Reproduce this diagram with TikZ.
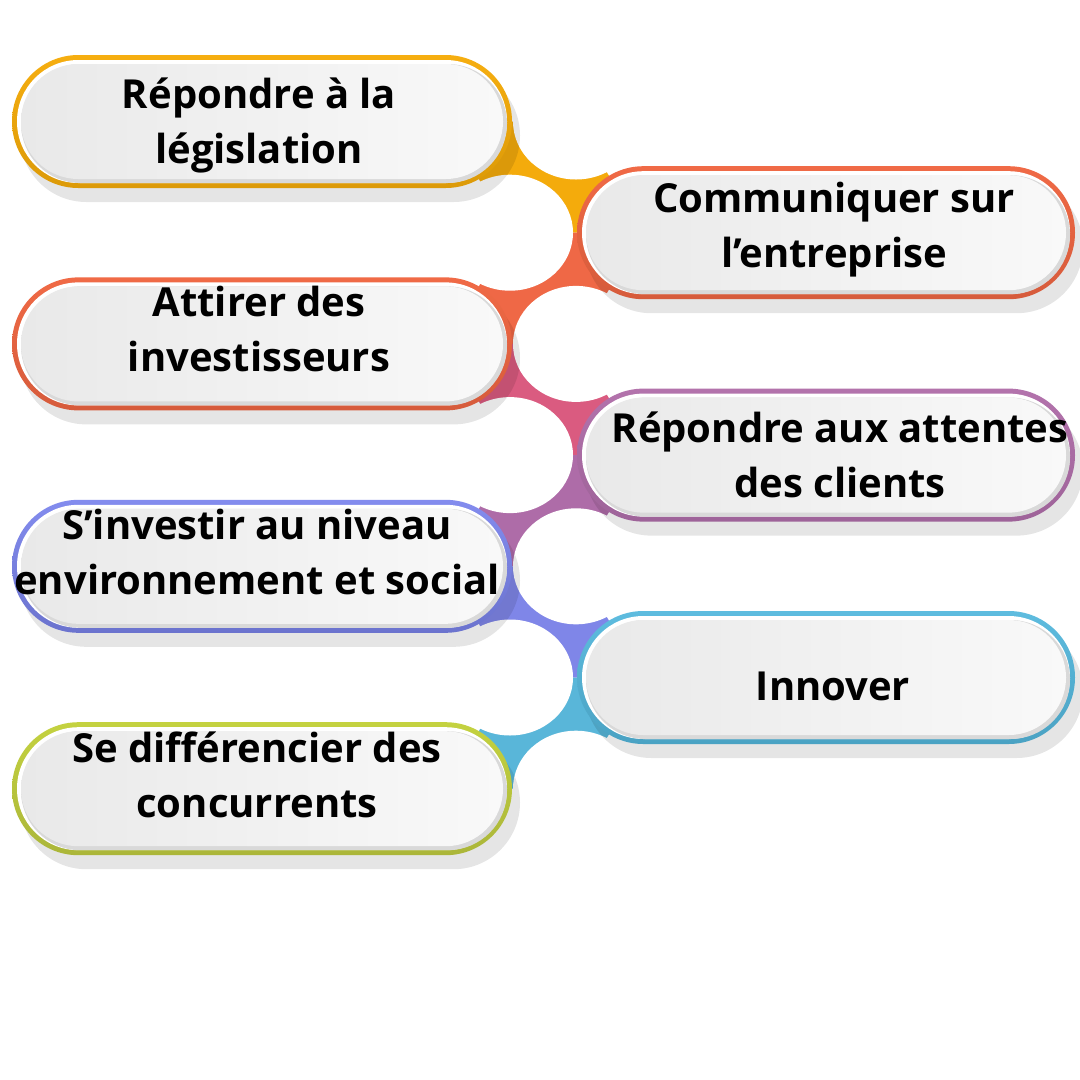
\documentclass[tikz,border=0pt]{standalone}
\usepackage{fontspec}
\newfontfamily\lblfont{Open Sans}
\definecolor{bandA}{HTML}{F4AB0C}
\definecolor{bandB}{HTML}{EF6846}
\definecolor{bandC}{HTML}{DA5B80}
\definecolor{bandD}{HTML}{AE6CA8}
\definecolor{bandE}{HTML}{7F86E8}
\definecolor{bandF}{HTML}{59B6D9}
\definecolor{yelT}{HTML}{F6AE10}\definecolor{yelB}{HTML}{DC9A08}
\definecolor{oraT}{HTML}{F06A46}\definecolor{oraB}{HTML}{D65B3B}
\definecolor{purT}{HTML}{B373AC}\definecolor{purB}{HTML}{9E6399}
\definecolor{vioT}{HTML}{838CEE}\definecolor{vioB}{HTML}{6B73CE}
\definecolor{cyaT}{HTML}{5EBCDF}\definecolor{cyaB}{HTML}{4AA2C3}
\definecolor{grnT}{HTML}{C4D240}\definecolor{grnB}{HTML}{ABB639}
\definecolor{fillL}{HTML}{E9E9E9}\definecolor{fillR}{HTML}{F9F9F9}
\definecolor{bevel}{HTML}{D9D9D9}
\newcommand\mypill[5]{% cx, cy, half width, top colour, bottom colour
  \begin{scope}[shift={(#1,#2)}]
    \path[rounded corners=66.4pt, top color=#4, bottom color=#5] (-#3,-66.5) rectangle (#3,66.5);
    \fill[white, rounded corners=61.4pt] (-#3+5,-61.5) rectangle (#3-5,61.5);
    \fill[bevel, rounded corners=59.4pt] (-#3+9,-57.5) rectangle (#3-5,61.5);
    \path[rounded corners=57.4pt, left color=fillL, right color=fillR] (-#3+9,-57.5) rectangle (#3-9,57.5);
  \end{scope}}
\newcommand\myshadow[3]{% cx, cy, half width
  \fill[black, opacity=0.1, rounded corners=66.4pt] (#1-#3+8,#2-66.5+14) rectangle (#1+#3+8,#2+66.5+14);}
\begin{document}
\begin{tikzpicture}[x=1pt,y=-1pt,
  lbl/.style={font=\lblfont\bfseries\fontsize{40}{55}\selectfont, align=center, inner sep=0pt, anchor=base, text=black},
  hole/.style={fill=white}]
\fill[white] (0,0) rectangle (1080,1080);
\useasboundingbox (0,0) rectangle (1080,1080);
% connector band
\fill[bandA] (445.5,121.5) -- (576,121.5) -- (643.5,232.7) -- (510,232.7) -- cycle;
\fill[bandB] (643.5,232.7) -- (510,232.7) -- (445.5,343.9) -- (576,343.9) -- cycle;
\fill[bandC] (445.5,343.9) -- (576,343.9) -- (643.5,455.1) -- (510,455.1) -- cycle;
\fill[bandD] (643.5,455.1) -- (510,455.1) -- (445.5,566.3) -- (576,566.3) -- cycle;
\fill[bandE] (445.5,566.3) -- (576,566.3) -- (643.5,677.5) -- (510,677.5) -- cycle;
\fill[bandF] (643.5,677.5) -- (510,677.5) -- (445.5,788.7) -- (576,788.7) -- cycle;
% white holes
\foreach \yy in {121.5,343.9,566.3,788.7} \fill[hole] (576,\yy) ellipse [x radius=63pt, y radius=58pt];
\foreach \yy in {232.7,455.1,677.5} \fill[hole] (510,\yy) ellipse [x radius=63pt, y radius=58pt];
% shadows
\myshadow{262}{121.5}{250}
\myshadow{826}{232.7}{249}
\myshadow{262}{343.9}{250}
\myshadow{826}{455.1}{249}
\myshadow{262}{566.3}{250}
\myshadow{826}{677.5}{249}
\myshadow{262}{788.7}{250}
% pills
\mypill{262}{121.5}{250}{yelT}{yelB}
\mypill{826}{232.7}{249}{oraT}{oraB}
\mypill{262}{343.9}{250}{oraT}{oraB}
\mypill{826}{455.1}{249}{purT}{purB}
\mypill{262}{566.3}{250}{vioT}{vioB}
\mypill{826}{677.5}{249}{cyaT}{cyaB}
\mypill{262}{788.7}{250}{grnT}{grnB}
% labels
\node[lbl] (t1) at (259,163) {Répondre à la\\législation};
\node[lbl] (t2) at (834,267) {Communiquer sur\\l’entreprise};
\node[lbl] (t3) at (259,371) {Attirer des\\investisseurs};
\node[lbl] (t4) at (840,497) {Répondre aux attentes\\des clients};
\node[lbl] (t5) at (257,594) {S’investir au niveau\\environnement et social};
\node[lbl] (t6) at (833,700) {Innover};
\node[lbl] (t7) at (257,817) {Se différencier des\\concurrents};
\end{tikzpicture}
\end{document}
